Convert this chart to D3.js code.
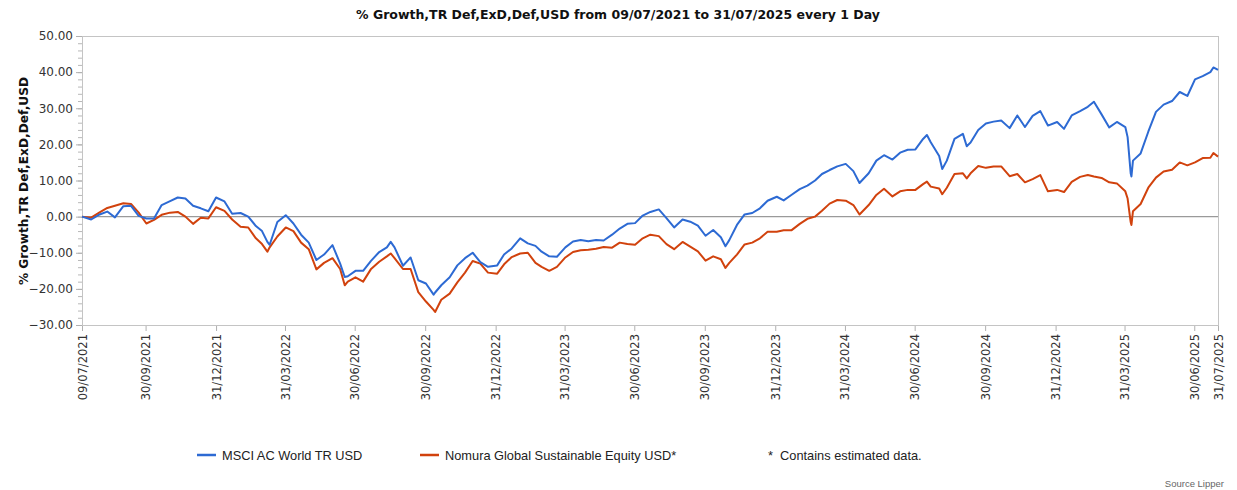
<!DOCTYPE html>
<html><head><meta charset="utf-8">
<script src="https://cdn.jsdelivr.net/npm/d3@7"></script>
<style>
html,body{margin:0;padding:0;background:#fff;}
svg{display:block;}
</style>
</head><body>
<svg id="chart" width="1237" height="490"></svg>
<script>
const dates = ["2021-07-09","2021-07-21","2021-08-01","2021-08-11","2021-08-21","2021-09-01","2021-09-11","2021-09-21","2021-10-01","2021-10-11","2021-10-21","2021-11-01","2021-11-11","2021-11-21","2021-12-01","2021-12-11","2021-12-21","2021-12-31",
"2022-01-11","2022-01-21","2022-02-01","2022-02-11","2022-02-21","2022-03-01","2022-03-08","2022-03-11","2022-03-21","2022-04-01","2022-04-11","2022-04-21","2022-05-01","2022-05-11","2022-05-21","2022-06-01","2022-06-11","2022-06-17","2022-06-21","2022-07-01","2022-07-11","2022-07-21","2022-08-01","2022-08-11","2022-08-16","2022-08-21","2022-09-01","2022-09-11","2022-09-21","2022-10-01","2022-10-11","2022-10-13","2022-10-21","2022-11-01","2022-11-11","2022-11-21","2022-12-01","2022-12-11","2022-12-21",
"2023-01-02","2023-01-11","2023-01-21","2023-02-01","2023-02-11","2023-02-21","2023-03-01","2023-03-11","2023-03-21","2023-04-01","2023-04-11","2023-04-21","2023-05-01","2023-05-11","2023-05-21","2023-06-01","2023-06-11","2023-06-21","2023-07-01","2023-07-11","2023-07-21","2023-08-01","2023-08-11","2023-08-21","2023-09-01","2023-09-11","2023-09-21","2023-10-01","2023-10-11","2023-10-21","2023-10-27","2023-11-01","2023-11-11","2023-11-21","2023-12-01","2023-12-11","2023-12-21",
"2024-01-02","2024-01-11","2024-01-21","2024-02-01","2024-02-11","2024-02-21","2024-03-01","2024-03-11","2024-03-21","2024-04-01","2024-04-11","2024-04-19","2024-05-01","2024-05-11","2024-05-21","2024-06-01","2024-06-11","2024-06-21","2024-07-01","2024-07-11","2024-07-16","2024-07-21","2024-08-01","2024-08-05","2024-08-11","2024-08-21","2024-09-01","2024-09-06","2024-09-11","2024-09-21","2024-10-01","2024-10-11","2024-10-21","2024-11-01","2024-11-11","2024-11-21","2024-12-01","2024-12-11","2024-12-21",
"2025-01-02","2025-01-11","2025-01-21","2025-02-01","2025-02-11","2025-02-19","2025-03-01","2025-03-11","2025-03-21","2025-04-01","2025-04-04","2025-04-08","2025-04-09","2025-04-11","2025-04-21","2025-05-01","2025-05-11","2025-05-21","2025-06-01","2025-06-11","2025-06-21","2025-07-01","2025-07-11","2025-07-21","2025-07-25","2025-07-31"];

const msciValues = [0,-0.8,0.6,1.4,-0.2,2.9,3.0,0.2,-0.5,-0.5,3.2,4.3,5.3,5.0,3.0,2.3,1.5,5.3,
4.2,0.8,1.0,0.0,-2.6,-4.0,-7.0,-7.8,-1.5,0.4,-1.9,-5.0,-7.2,-12.0,-10.5,-7.9,-13.0,-16.7,-16.5,-15.0,-15.0,-12.3,-9.8,-8.5,-7.0,-8.5,-13.6,-11.3,-17.6,-18.5,-21.6,-21.0,-19.0,-16.8,-13.5,-11.5,-10.0,-12.6,-13.9,
-13.5,-10.5,-8.8,-6.0,-7.4,-8.1,-9.7,-11.0,-11.1,-8.5,-6.9,-6.5,-6.8,-6.5,-6.6,-5.0,-3.3,-2.0,-1.8,0.3,1.3,2.0,-0.4,-3.0,-0.8,-1.4,-2.5,-5.3,-3.7,-5.7,-8.2,-6.5,-2.3,0.6,1.0,2.3,4.4,
5.5,4.5,6.0,7.6,8.6,10.0,11.8,12.9,13.9,14.6,12.6,9.3,12.0,15.5,17.0,15.8,17.7,18.5,18.6,21.5,22.6,20.6,16.8,13.2,15.5,21.5,22.9,19.5,20.5,24.0,25.8,26.3,26.6,24.5,28.0,24.8,27.9,29.2,25.2,
26.2,24.3,28.0,29.2,30.4,31.8,28.3,24.7,26.2,24.8,22.0,12.0,11.1,15.5,17.5,23.5,29.0,31.0,32.0,34.5,33.4,38.0,38.9,40.0,41.3,40.6];

const nomuraValues = [0,-0.3,1.2,2.4,3.0,3.7,3.5,1.1,-1.9,-0.9,0.5,1.1,1.3,0.0,-2.0,-0.3,-0.5,2.6,
1.6,-0.8,-2.8,-3.0,-6.0,-7.6,-9.7,-8.5,-5.5,-3.0,-4.0,-7.2,-9.0,-14.6,-12.8,-11.5,-14.5,-19.0,-18.0,-16.8,-18.0,-14.6,-12.5,-11.0,-10.2,-11.5,-14.5,-14.5,-20.9,-23.5,-25.8,-26.4,-23.0,-21.3,-18.2,-15.5,-12.3,-13.0,-15.5,
-15.8,-13.2,-11.2,-10.2,-10.0,-12.8,-13.9,-15.0,-13.9,-11.3,-9.8,-9.3,-9.2,-8.9,-8.4,-8.6,-7.2,-7.6,-7.8,-6.0,-5.0,-5.4,-7.6,-9.0,-7.0,-8.3,-9.6,-12.2,-11.0,-11.8,-14.2,-12.8,-10.5,-7.7,-7.2,-6.0,-4.2,
-4.2,-3.8,-3.8,-2.0,-0.6,0.0,1.6,3.6,4.6,4.4,3.2,0.6,3.2,6.0,7.7,5.6,7.0,7.4,7.4,9.0,9.7,8.3,7.8,6.2,8.0,11.8,12.0,10.6,12.0,14.0,13.5,13.9,13.9,11.2,11.8,9.5,10.4,11.5,7.0,
7.4,6.8,9.6,11.0,11.5,11.1,10.7,9.5,9.2,7.0,5.0,-1.5,-2.3,1.5,3.5,8.0,10.8,12.5,13.0,15.0,14.2,15.0,16.2,16.3,17.6,16.6];

const yTickValues = [-30,-20,-10,0,10,20,30,40,50];
const xTickLabels = ["09/07/2021","30/09/2021","31/12/2021","31/03/2022","30/06/2022","30/09/2022","31/12/2022","31/03/2023","30/06/2023","30/09/2023","31/12/2023","31/03/2024","30/06/2024","30/09/2024","31/12/2024","31/03/2025","30/06/2025","31/07/2025"];
const seriesNames = ["MSCI AC World TR USD","Nomura Global Sustainable Equity USD*"];
const titleText = "% Growth,TR Def,ExD,Def,USD from 09/07/2021 to 31/07/2025 every 1 Day";
const yTitleText = "% Growth,TR Def,ExD,Def,USD";
const noteText = "*  Contains estimated data.";
const sourceText = "Source Lipper";

const svg = d3.select("#chart");
const L = 82, R = 1218, T = 36, B = 325;
const parse = d3.timeParse("%Y-%m-%d");
const parseTick = d3.timeParse("%d/%m/%Y");
const fmtTick = d3.timeFormat("%d/%m/%Y");

const x = d3.scaleTime().domain([parse(dates[0]), parse(dates[dates.length-1])]).range([L, R]);
const y = d3.scaleLinear().domain([-30, 50]).range([B, T]);

const fontMain = "DejaVu Sans, Verdana, sans-serif";
const colBlue = "#2d6ad3", colRed = "#d1420d";

// title
svg.append("text").attr("x", 618).attr("y", 19).attr("text-anchor","middle")
  .attr("font-family", fontMain).attr("font-weight","bold").attr("font-size", 12.5).attr("fill","#111")
  .text(titleText);

// y title
svg.append("text").attr("transform","translate(28,181) rotate(-90)").attr("text-anchor","middle")
  .attr("font-family", fontMain).attr("font-weight","bold").attr("font-size", 12.2).attr("fill","#111")
  .text(yTitleText);

// minor y ticks
const minor = d3.range(-30, 50.001, 2);
svg.append("g").selectAll("line").data(minor).join("line")
  .attr("x1", L-4).attr("x2", L).attr("y1", d=>y(d)+0.5).attr("y2", d=>y(d)+0.5)
  .attr("stroke","#b8b8b8").attr("stroke-width",1);

// y axis
const yAxis = d3.axisLeft(y).tickValues(yTickValues).tickFormat(d3.format(".2f")).tickSize(6).tickPadding(3);
const gy = svg.append("g").attr("transform", `translate(${L},0)`).call(yAxis);
gy.select(".domain").remove();
gy.selectAll(".tick line").attr("stroke","#b0b0b0");
gy.selectAll(".tick text").attr("font-family", fontMain).attr("font-size", 12).attr("fill","#333");

// x axis
const xAxis = d3.axisBottom(x).tickValues(xTickLabels.map(parseTick)).tickFormat(fmtTick).tickSize(6).tickPadding(4);
const gx = svg.append("g").attr("transform", `translate(0,${B})`).call(xAxis);
gx.select(".domain").remove();
gx.selectAll(".tick line").attr("stroke","#b0b0b0");
gx.selectAll(".tick text").attr("font-family", fontMain).attr("font-size", 11.5).attr("fill","#333")
  .attr("transform","rotate(-90)").attr("text-anchor","end").attr("x", -9).attr("y", 0).attr("dy","0.35em");

// frame
svg.append("rect").attr("x", L+0.5).attr("y", T+0.5).attr("width", R-L).attr("height", B-T)
  .attr("fill","none").attr("stroke","#c4c4c4").attr("stroke-width",1);

// zero line
svg.append("line").attr("x1", L).attr("x2", R).attr("y1", y(0)).attr("y2", y(0))
  .attr("stroke","#9a9a9a").attr("stroke-width",1.2);

const line = d3.line().x((d,i)=>x(parse(dates[i]))).y(d=>y(d));
svg.append("path").datum(nomuraValues).attr("d", line).attr("fill","none")
  .attr("stroke", colRed).attr("stroke-width", 2).attr("stroke-linejoin","round");
svg.append("path").datum(msciValues).attr("d", line).attr("fill","none")
  .attr("stroke", colBlue).attr("stroke-width", 2).attr("stroke-linejoin","round");

// legend
const legFont = "Liberation Sans, Arial, sans-serif";
const leg = [{x:197, c:colBlue, t:seriesNames[0]},{x:420, c:colRed, t:seriesNames[1]}];
leg.forEach(l=>{
  svg.append("line").attr("x1", l.x).attr("x2", l.x+19).attr("y1", 455).attr("y2", 455)
    .attr("stroke", l.c).attr("stroke-width", 2.5);
  svg.append("text").attr("x", l.x+25).attr("y", 459.5).attr("font-family", legFont)
    .attr("font-size", 12.8).attr("fill","#222").text(l.t);
});
svg.append("text").attr("x", 768).attr("y", 459.5).attr("font-family", legFont)
  .attr("font-size", 12.8).attr("fill","#222").style("white-space","pre").text(noteText);

svg.append("text").attr("x", 1224).attr("y", 487).attr("text-anchor","end").attr("font-family", legFont)
  .attr("font-size", 9.5).attr("fill","#666").text(sourceText);
</script>
</body></html>
